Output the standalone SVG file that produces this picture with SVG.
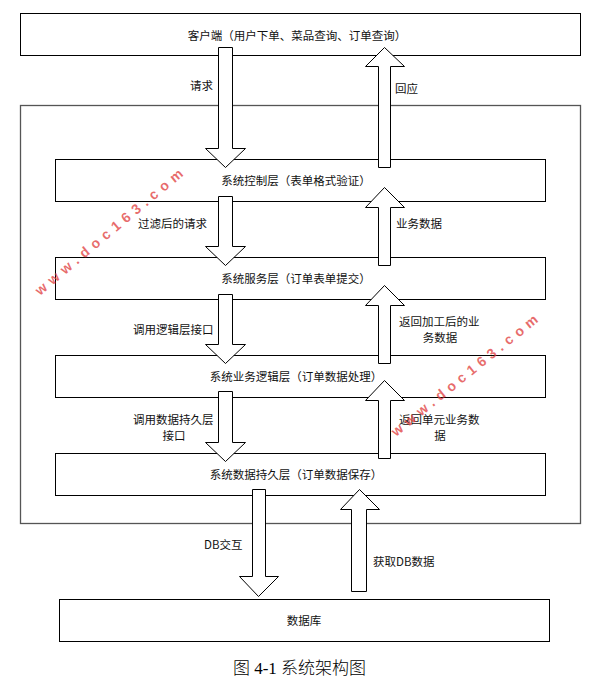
<svg xmlns="http://www.w3.org/2000/svg" width="597" height="692" viewBox="0 0 597 692">
<defs>
<style>
.box{fill:#fff;stroke:#000;stroke-width:1}
.outer{fill:#fff;stroke:#555;stroke-width:1.3}
.arrow{fill:#fff;stroke:#000;stroke-width:1}
.t{font-family:"Noto Sans CJK SC","Liberation Sans",sans-serif;font-size:11.5px;fill:#111;dominant-baseline:central}
.c{text-anchor:middle}
.cap{font-family:"Liberation Serif","Noto Sans CJK SC",serif;font-size:17px;font-weight:300;fill:#000;text-anchor:middle}
.wm{font-family:"Liberation Sans",sans-serif;font-size:14px;font-weight:bold;fill:#e03c3c;fill-opacity:0.75}
</style>
</defs>
<rect width="597" height="692" fill="#fff"/>
<g id="client"><rect class="box" x="20.5" y="13.5" width="560" height="42" stroke="#444"/><text class="t c" x="297" y="35">客户端（用户下单、菜品查询、订单查询）</text></g>
<g id="container"><rect class="outer" x="20.5" y="105.5" width="560" height="418"/></g>
<g id="control"><rect class="box" x="55.5" y="159.5" width="490" height="42"/><text class="t c" x="296" y="180">系统控制层（表单格式验证）</text></g>
<g id="service"><rect class="box" x="55.5" y="257.5" width="490" height="42"/><text class="t c" x="296" y="278">系统服务层（订单表单提交）</text></g>
<g id="logic"><rect class="box" x="55.5" y="355.5" width="490" height="42"/><text class="t c" x="296" y="376">系统业务逻辑层（订单数据处理）</text></g>
<g id="persist"><rect class="box" x="55.5" y="453.5" width="490" height="42"/><text class="t c" x="296" y="474">系统数据持久层（订单数据保存）</text></g>
<g id="db"><rect class="box" x="59.5" y="599.5" width="490" height="42"/><text class="t c" x="304" y="620">数据库</text></g>
<g id="connectors">
<polygon class="arrow" points="218.5,47.5 232.5,47.5 232.5,148.5 245.5,148.5 225.5,167.5 205.5,148.5 218.5,148.5"/>
<polygon class="arrow" points="218.5,196.5 232.5,196.5 232.5,246.5 245.5,246.5 225.5,265.5 205.5,246.5 218.5,246.5"/>
<polygon class="arrow" points="218.5,294.5 232.5,294.5 232.5,344.5 245.5,344.5 225.5,363.5 205.5,344.5 218.5,344.5"/>
<polygon class="arrow" points="218.5,391.5 232.5,391.5 232.5,442.5 245.5,442.5 225.5,461.5 205.5,442.5 218.5,442.5"/>
<polygon class="arrow" points="252.5,489.5 265.5,489.5 265.5,576.5 278.5,576.5 258.5,596.5 239.5,576.5 252.5,576.5"/>
<polygon class="arrow" points="378.5,167.5 390.5,167.5 390.5,66.5 404.5,66.5 384.5,47.5 365.5,66.5 378.5,66.5"/>
<polygon class="arrow" points="378.5,265.5 390.5,265.5 390.5,207.5 404.5,207.5 384.5,187.5 365.5,207.5 378.5,207.5"/>
<polygon class="arrow" points="378.5,363.5 390.5,363.5 390.5,305.5 404.5,305.5 384.5,285.5 365.5,305.5 378.5,305.5"/>
<polygon class="arrow" points="378.5,458.5 390.5,458.5 390.5,400.5 404.5,400.5 384.5,380.5 365.5,400.5 378.5,400.5"/>
<polygon class="arrow" points="351.5,591.5 366.5,591.5 366.5,509.5 379.5,509.5 359.5,489.5 340.5,509.5 351.5,509.5"/>
</g>
<g id="labels">
<text class="t" x="190" y="85">请求</text>
<text class="t" x="395" y="88">回应</text>
<text class="t" x="138" y="223">过滤后的请求</text>
<text class="t" x="396" y="223">业务数据</text>
<text class="t" x="133" y="329">调用逻辑层接口</text>
<text class="t" x="399" y="321">返回加工后的业</text>
<text class="t c" x="440" y="337">务数据</text>
<text class="t" x="133" y="419">调用数据持久层</text>
<text class="t c" x="174" y="435">接口</text>
<text class="t" x="399" y="419">返回单元业务数</text>
<text class="t c" x="440" y="435">据</text>
<text class="t" x="204" y="544">DB交互</text>
<text class="t" x="373" y="561">获取DB数据</text>
</g>
<text class="cap" x="299.5" y="674">图 4-1 系统架构图</text>
<g id="watermarks">
<text class="wm" x="40" y="296" textLength="188" lengthAdjust="spacing" transform="rotate(-40 40 296)">www.doc163.com</text>
<text class="wm" x="396" y="437" textLength="184" lengthAdjust="spacing" transform="rotate(-39 396 437)">www.doc163.com</text>
</g>
</svg>
